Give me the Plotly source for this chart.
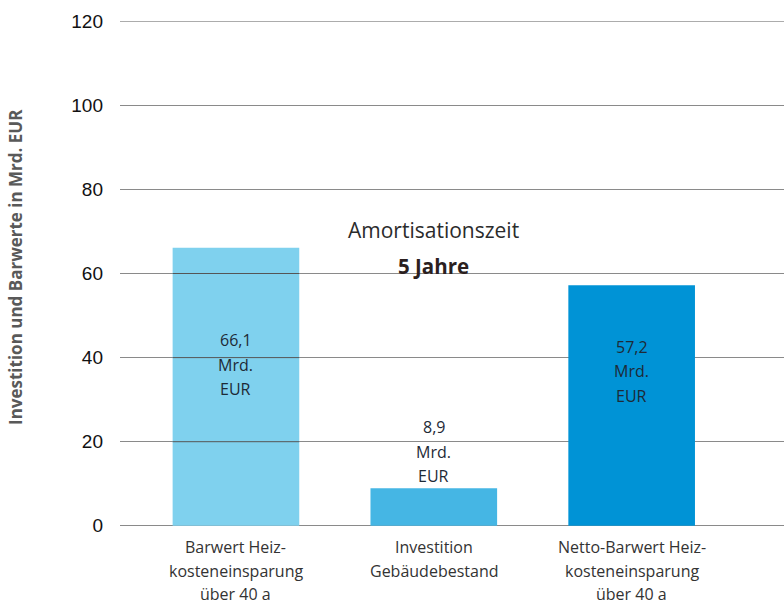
import plotly.graph_objects as go

# Categories and values (Mrd. EUR)
categories = [
    ["Barwert Heiz-", "kosteneinsparung", "über 40 a"],
    ["Investition", "Gebäudebestand"],
    ["Netto-Barwert Heiz-", "kosteneinsparung", "über 40 a"],
]
values = [66.1, 8.9, 57.2]
bar_colors = ["#7fd1ee", "#45b6e4", "#0093d6"]
label_y = [38.3, 17.6, 36.8]
y_ticks = [0, 20, 40, 60, 80, 100, 120]

x_pos = list(range(len(categories)))
TEXT_FONT = "Open Sans"
GRID = "#8a8a8a"

fig = go.Figure()
fig.add_trace(go.Bar(
    x=x_pos, y=values, width=0.64,
    marker=dict(color=bar_colors, line=dict(width=0)),
    hoverinfo="skip",
))


def add_lines(lines, x, y, xref, yref, size, color, spacing, first_shift=0.0, bold=False):
    """Place each text line separately so the line spacing can be set freely."""
    n = len(lines)
    for i, line in enumerate(lines):
        shift = first_shift - i * spacing if first_shift else ((n - 1) / 2 - i) * spacing
        fig.add_annotation(
            x=x, y=y, xref=xref, yref=yref, showarrow=False,
            text=f"<b>{line}</b>" if bold else line,
            font=dict(family=TEXT_FONT, size=size, color=color),
            yanchor="middle", yshift=shift,
        )


# value labels inside / above bars
for xi, v, ly in zip(x_pos, values, label_y):
    add_lines([f"{v:.1f}".replace(".", ","), "Mrd.", "EUR"],
              xi, ly, "x", "y", 16, "#1e2a36", 24.5)

# category labels below the axis
for xi, lines in zip(x_pos, categories):
    add_lines(lines, xi, 0, "x", "y", 16, "#333333", 23.5, first_shift=-21.5)

# amortisation note
fig.add_annotation(x=1, y=70.3, xref="x", yref="y", showarrow=False,
                   text="Amortisationszeit",
                   font=dict(family=TEXT_FONT, size=21, color="#2b2b2b"))
fig.add_annotation(x=1, y=61.8, xref="x", yref="y", showarrow=False,
                   text="<b>5 Jahre</b>",
                   font=dict(family=TEXT_FONT, size=20.5, color="#2b1f1f"))

# y axis title
fig.add_annotation(x=0, y=0.5, xref="paper", yref="paper", showarrow=False,
                   xshift=-118, yshift=6, textangle=-90,
                   text="<b>Investition und Barwerte in Mrd. EUR</b>",
                   font=dict(family=TEXT_FONT, size=17, color="#595959"))

# top gridline at the end of the range
fig.add_shape(type="line", xref="paper", yref="y", x0=0, x1=1,
              y0=y_ticks[-1], y1=y_ticks[-1], layer="below",
              line=dict(color=GRID, width=1))

# gridlines drawn on top of the first bar
for t in y_ticks[1:]:
    if t < values[0]:
        fig.add_shape(type="line", xref="x", yref="y",
                      x0=-0.32, x1=0.32, y0=t, y1=t, layer="above",
                      line=dict(color="#555555", width=1))

fig.update_layout(
    width=784, height=604,
    margin=dict(l=120, r=0, t=21, b=78),
    paper_bgcolor="white", plot_bgcolor="white",
    showlegend=False,
    xaxis=dict(
        range=[-0.586, 2.77], showticklabels=False,
        showgrid=False, zeroline=False, showline=False, ticks="",
        fixedrange=True,
    ),
    yaxis=dict(
        range=[-0.05, 120.05], tickvals=y_ticks,
        showgrid=True, gridcolor=GRID, gridwidth=1,
        zeroline=True, zerolinecolor=GRID, zerolinewidth=1,
        showline=False, ticks="",
        tickfont=dict(family="Liberation Sans", size=19, color="#111111"),
        ticklabelstandoff=16,
        fixedrange=True,
    ),
)

fig.write_html("out.html")
